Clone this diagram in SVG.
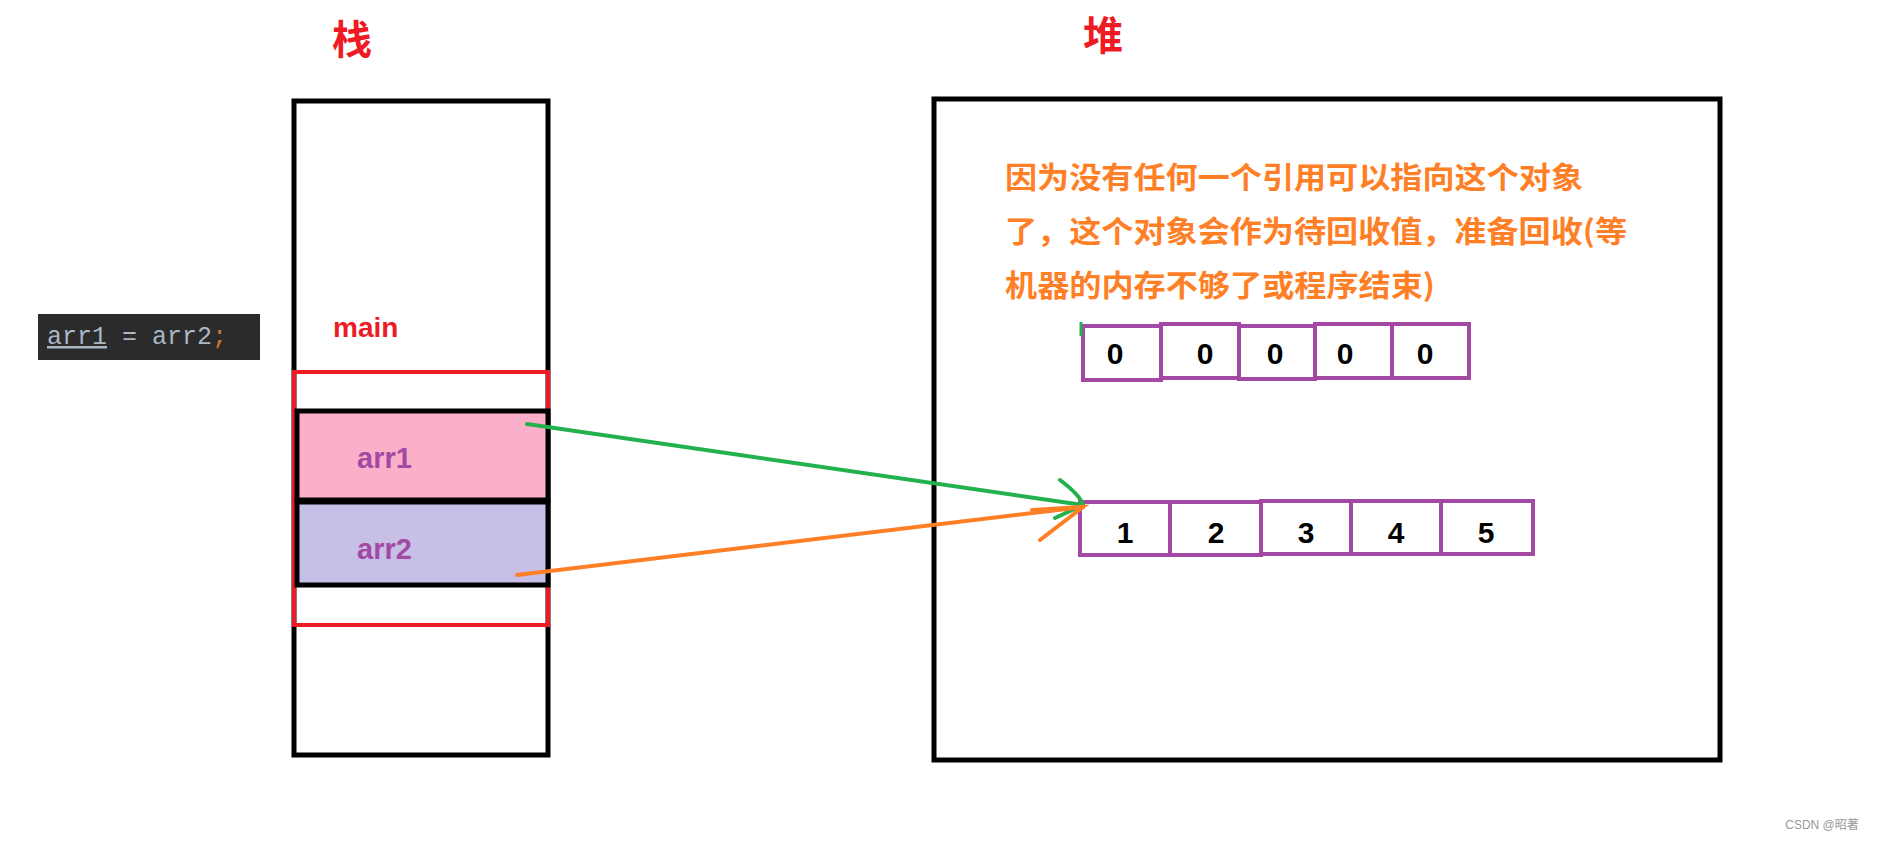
<svg xmlns="http://www.w3.org/2000/svg" width="1880" height="842" viewBox="0 0 1880 842">
<style>
.t{font-family:"Liberation Sans","Noto Sans CJK SC",sans-serif;font-weight:bold}
.cell{fill:#fff;stroke:#a349a4;stroke-width:4}
.num{font-family:"Liberation Sans",sans-serif;font-weight:bold;font-size:30px;fill:#000;text-anchor:middle}
.note{font-family:"Noto Sans CJK SC",sans-serif;font-weight:bold;font-size:30px;fill:#ff7f27}
</style>
<rect width="1880" height="842" fill="#fff"/>
<g id="stack">
<text class="t" x="332" y="54" font-size="40" fill="#ed1c24">栈</text>
<rect x="294" y="101" width="254" height="654" fill="#fff" stroke="#000" stroke-width="5"/>
<text class="t" x="333" y="337" font-size="28" fill="#ed1c24">main</text>
<rect x="294" y="372" width="254" height="253" fill="none" stroke="#ed1c24" stroke-width="4"/>
</g>
<g id="arr1">
<rect x="297" y="411" width="251" height="89" fill="#fbafc9" stroke="#000" stroke-width="5"/>
<text class="t" x="357" y="468" font-size="29" fill="#a349a4">arr1</text>
</g>
<g id="arr2">
<rect x="297" y="502" width="251" height="83" fill="#c8bfe7" stroke="#000" stroke-width="5"/>
<text class="t" x="357" y="559" font-size="29" fill="#a349a4">arr2</text>
</g>
<g id="code">
<rect x="38" y="314" width="222" height="46" fill="#2b2b2b"/>
<text x="47" y="337" font-family="Liberation Mono,monospace" font-size="25" fill="#a9b7c6" dominant-baseline="middle"><tspan text-decoration="underline">arr1</tspan> = arr2<tspan fill="#cc7832">;</tspan></text>
</g>
<g id="heap">
<text class="t" x="1083" y="50" font-size="40" fill="#ed1c24">堆</text>
<rect x="934" y="99" width="786" height="661" fill="#fff" stroke="#000" stroke-width="5"/>
<text class="note" x="1005" y="188" textLength="578" lengthAdjust="spacingAndGlyphs">因为没有任何一个引用可以指向这个对象</text>
<text class="note" x="1005" y="242" textLength="622" lengthAdjust="spacingAndGlyphs">了，这个对象会作为待回收值，准备回收(等</text>
<text class="note" x="1005" y="296" textLength="430" lengthAdjust="spacingAndGlyphs">机器的内存不够了或程序结束)</text>
</g>
<g id="zeros">
<rect class="cell" x="1083" y="326" width="78" height="54"/>
<rect class="cell" x="1161" y="324" width="78" height="54"/>
<rect class="cell" x="1239" y="326" width="76" height="53"/>
<rect class="cell" x="1315" y="324" width="77" height="54"/>
<rect class="cell" x="1392" y="324" width="77" height="54"/>
<text class="num" x="1115" y="364">0</text>
<text class="num" x="1205" y="364">0</text>
<text class="num" x="1275" y="364">0</text>
<text class="num" x="1345" y="364">0</text>
<text class="num" x="1425" y="364">0</text>
<path d="M1081 322 L1081 336" stroke="#22b14c" stroke-width="3"/>
</g>
<g id="ones">
<rect class="cell" x="1080" y="502" width="90" height="53"/>
<rect class="cell" x="1170" y="502" width="91" height="53"/>
<rect class="cell" x="1261" y="501" width="90" height="53"/>
<rect class="cell" x="1351" y="501" width="90" height="53"/>
<rect class="cell" x="1441" y="501" width="92" height="53"/>
<text class="num" x="1125" y="543">1</text>
<text class="num" x="1216" y="543">2</text>
<text class="num" x="1306" y="543">3</text>
<text class="num" x="1396" y="543">4</text>
<text class="num" x="1486" y="543">5</text>
</g>
<g id="connectors" fill="none" stroke-width="4" stroke-linecap="round">
<path d="M527 424 L1083 505" stroke="#22b14c"/>
<path d="M1060 480 Q1080 495 1083 505 L1055 518" stroke="#22b14c"/>
<path d="M517 575 L1083 507" stroke="#ff7f27"/>
<path d="M1032 510 L1083 507 L1040 540" stroke="#ff7f27"/>
</g>
<text x="1822" y="829" font-family="Liberation Sans,Noto Sans CJK SC,sans-serif" font-size="12" fill="#999" text-anchor="middle">CSDN @昭著</text>
</svg>
